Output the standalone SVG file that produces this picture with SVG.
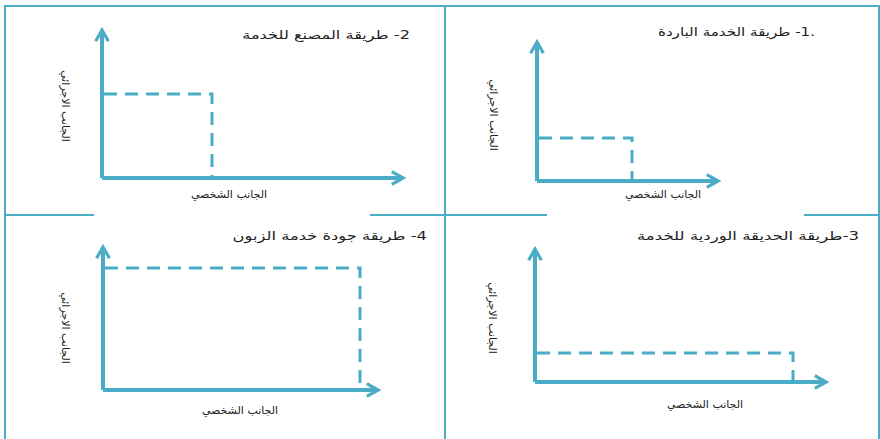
<svg xmlns="http://www.w3.org/2000/svg" width="880" height="439" viewBox="0 0 880 439">
<defs>
<style>
.frame{stroke:#4bacc6;stroke-width:2;fill:none}
.axis{stroke:#4bacc6;stroke-width:4;fill:none;marker-end:url(#arr)}
.dash{stroke:#4bacc6;stroke-width:3;fill:none;stroke-dasharray:13 8}
.t{font-family:"DejaVu Sans",sans-serif;font-size:12px;fill:#222;text-anchor:end}
.lab{font-family:"DejaVu Sans",sans-serif;font-size:11px;fill:#222;text-anchor:middle}
</style>
<marker id="arr" viewBox="0 0 10 10" refX="8" refY="5" markerWidth="4" markerHeight="4" orient="auto" markerUnits="strokeWidth">
<polyline points="1,1 8,5 1,9" fill="none" stroke="#4bacc6" stroke-width="2"/>
</marker>
</defs>
<rect width="880" height="439" fill="#fff"/>
<g id="frame">
<path class="frame" d="M5,445 V6 H879 V445"/>
<path class="frame" d="M445,6 V445"/>
<path class="frame" d="M5,215 H94 M370,215 H547 M804,215 H879"/>
</g>
<g id="connectors">
<path class="axis" d="M102,178 V30"/>
<path class="axis" d="M102,178 H403"/>
<path class="axis" d="M537,181 V42"/>
<path class="axis" d="M537,181 H718"/>
<path class="axis" d="M103,390 V247"/>
<path class="axis" d="M103,390 H378"/>
<path class="axis" d="M535,382 V249"/>
<path class="axis" d="M535,382 H826"/>
</g>
<g id="panel2">
<text class="t" transform="translate(410,39) scale(1.35,1)">طريقة المصنع للخدمة&#x200E; -2</text>
<path class="dash" d="M104,94 H212 V178"/>
<text class="lab" transform="translate(62,106) rotate(90)">الجانب الاجرائي</text>
<text class="lab" x="229" y="198">الجانب الشخصي</text>
</g>
<g id="panel1">
<text class="t" transform="translate(815,36) scale(1.26,1)">طريقة الخدمة الباردة&#x200E; -1.</text>
<path class="dash" d="M539,138 H632 V181"/>
<text class="lab" transform="translate(490,115) rotate(90)">الجانب الاجرائي</text>
<text class="lab" x="663" y="198">الجانب الشخصي</text>
</g>
<g id="panel4">
<text class="t" transform="translate(427,240) scale(1.36,1)">طريقة جودة خدمة الزبون&#x200E; -4</text>
<path class="dash" d="M105,268 H360 V390"/>
<text class="lab" transform="translate(62,328) rotate(90)">الجانب الاجرائي</text>
<text class="lab" x="240" y="414">الجانب الشخصي</text>
</g>
<g id="panel3">
<text class="t" transform="translate(859,240) scale(1.38,1)">طريقة الحديقة الوردية للخدمة&#x200E;-3</text>
<path class="dash" d="M537,353 H793 V382"/>
<text class="lab" transform="translate(489,318) rotate(90)">الجانب الاجرائي</text>
<text class="lab" x="705" y="408">الجانب الشخصي</text>
</g>
</svg>
